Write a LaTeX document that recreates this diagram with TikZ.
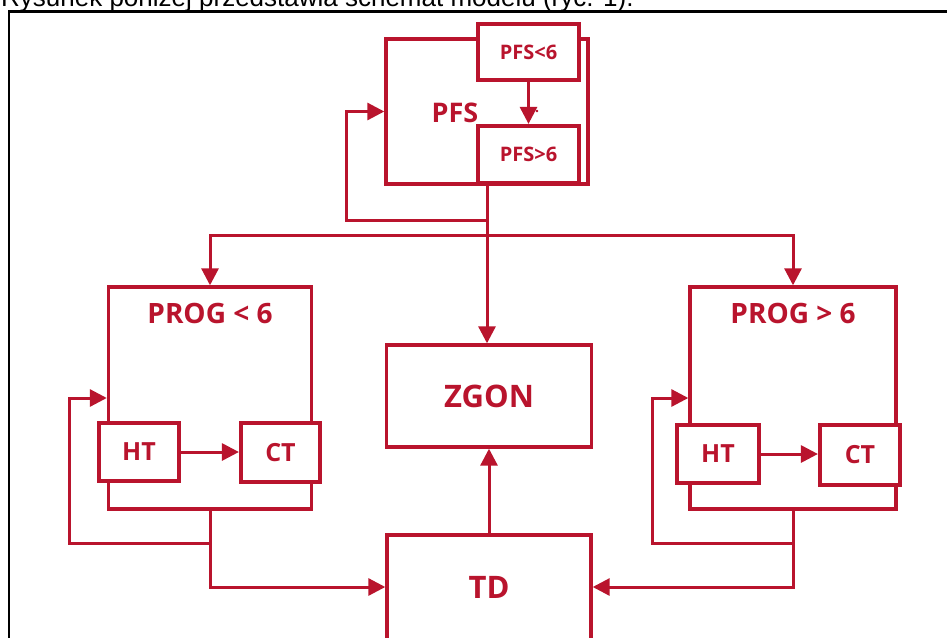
\documentclass[tikz,border=0pt]{standalone}
\usepackage{fontspec}
\setmainfont{Open Sans}
\newfontfamily\capfont{Liberation Sans}
\usetikzlibrary{arrows.meta}
\definecolor{dred}{RGB}{185,20,45}
\tikzset{
  box/.style={draw=dred, line width=3.4pt, fill=white, inner sep=0pt, text=dred},
  inbox/.style={draw=dred, line width=4.2pt, fill=white, inner sep=0pt, text=dred},
  lab/.style={text=dred, inner sep=0pt, font=\bfseries\fontsize{#1}{#1}\selectfont},
  conn/.style={draw=dred, line width=3pt},
  arr/.style={conn, -{Triangle[length=17pt,width=17pt]}},
}
\begin{document}
\begin{tikzpicture}[x=1pt,y=-1pt]
\useasboundingbox (0,0) rectangle (947,637);
\clip (0,0) rectangle (947,637);
\fill[white] (0,0) rectangle (947,637);

% caption (cut at top, as in the reference) and frame
\node[anchor=base west, inner sep=0pt, font=\capfont\fontsize{26}{30}\selectfont] (caption) at (1,6) {Rysunek poniżej przedstawia schemat modelu (ryc. 1).};
\draw[black, line width=2.5pt] (9,660) -- (9,11.5) -- (970,11.5);

% PFS group
\node[box, minimum width=202pt, minimum height=145pt] (pfs) at (487,111.5) {};
\node[lab=27] (pfslab) at (455,113) {PFS};
\node[inbox, minimum width=101pt, minimum height=56pt, lab=20] (pfslo) at (528.5,52) {PFS<6};
\node[inbox, minimum width=101pt, minimum height=57pt, lab=20] (pfshi) at (528.5,154.5) {PFS>6};
\node[lab=14] (dot) at (537,112) {.};
\draw[arr] (pfslo.south) -- (pfshi.north);

% PROG < 6
\node[box, minimum width=203pt, minimum height=222pt] (progL) at (210,398) {};
\node[lab=28] (progLlab) at (210,313) {PROG < 6};
\node[inbox, minimum width=80pt, minimum height=58pt, lab=25] (htL) at (139,452) {HT};
\node[inbox, minimum width=79pt, minimum height=59pt, lab=25] (ctL) at (280.5,452.5) {CT};
\draw[arr] (htL.east) -- (ctL.west |- htL.east);

% PROG > 6
\node[box, minimum width=206pt, minimum height=222pt] (progR) at (793,398) {};
\node[lab=28] (progRlab) at (793,313) {PROG > 6};
\node[inbox, minimum width=82pt, minimum height=58pt, lab=25] (htR) at (718,454) {HT};
\node[inbox, minimum width=80pt, minimum height=60pt, lab=25] (ctR) at (860,455) {CT};
\draw[arr] (htR.east) -- (ctR.west |- htR.east);

% ZGON and TD
\node[box, minimum width=205pt, minimum height=102pt, lab=31] (zgon) at (489,396) {ZGON};
\node[box, minimum width=204pt, minimum height=110pt] (td) at (489,590) {};
\node[lab=31] (tdlab) at (489,587) {TD};

% connectors from PFS
\coordinate (fbP) at (346,220);
\coordinate (dist) at (487,235);
\draw[conn] (pfs.south) -- (pfs.south |- dist);
\draw[arr] (pfs.south |- dist) -- (pfs.south |- zgon.north);
\draw[arr] (pfs.south |- fbP) -- (fbP) |- (pfs.west);
\draw[arr] (pfs.south |- dist) -| (progL.north);
\draw[arr] (pfs.south |- dist) -| (progR.north);

% left feedback and to TD
\coordinate (fbL) at (69,543);
\coordinate (tdL) at (210,587);
\draw[conn] (progL.south) -- (progL.south |- fbL);
\draw[arr] (progL.south |- fbL) -- (fbL) |- (progL.west);
\draw[arr] (progL.south |- fbL) -- (progL.south |- tdL) -- (td.west |- tdL);

% right feedback and to TD
\coordinate (fbR) at (652,543);
\coordinate (tdR) at (793,587);
\draw[conn] (progR.south) -- (progR.south |- fbR);
\draw[arr] (progR.south |- fbR) -- (fbR) |- (progR.west);
\draw[arr] (progR.south |- fbR) -- (progR.south |- tdR) -- (td.east |- tdR);

% TD to ZGON
\draw[arr] (td.north) -- (zgon.south);
\end{tikzpicture}
\end{document}
